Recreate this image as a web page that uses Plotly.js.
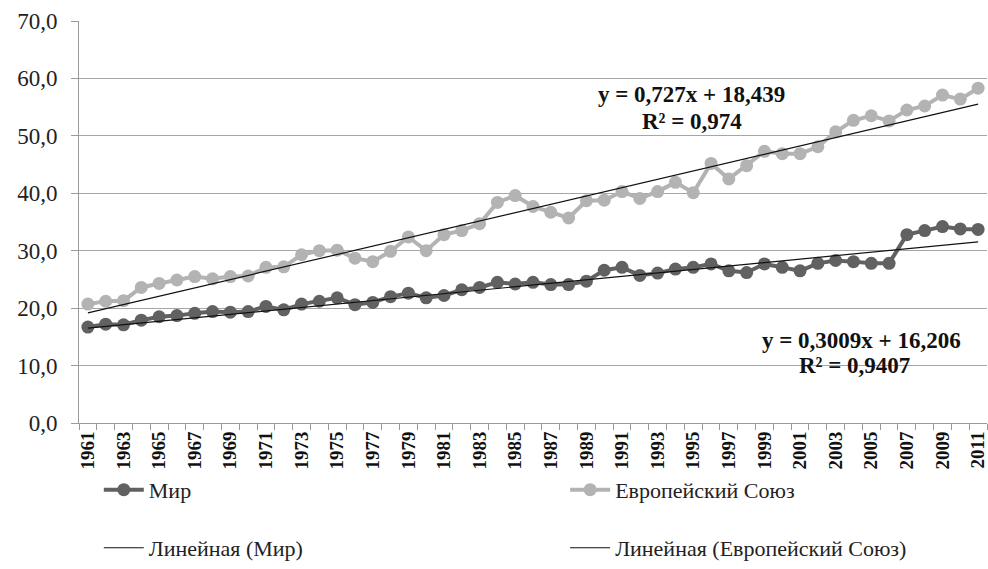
<!DOCTYPE html>
<html>
<head>
<meta charset="utf-8">
<script src="https://cdn.plot.ly/plotly-3.0.1.min.js"></script>
<style>html,body{margin:0;padding:0;background:#fff;}#chart{width:988px;height:569px;}</style>
</head>
<body>
<div id="chart"></div>
<script>
const years = [];
for (let y = 1961; y <= 2011; y++) years.push(y);
const tickYears = years.filter(y => (y - 1961) % 2 === 0);

const mir = [16.7,17.2,17.1,17.9,18.5,18.7,19.1,19.4,19.3,19.4,
             20.3,19.7,20.7,21.2,21.8,20.6,21.0,22.0,22.6,21.8,
             22.2,23.2,23.6,24.5,24.2,24.5,24.1,24.1,24.7,26.6,
             27.1,25.7,26.1,26.8,27.1,27.7,26.5,26.2,27.7,27.1,
             26.5,27.8,28.3,28.1,27.8,27.8,32.8,33.5,34.2,33.8,33.7];
const eu  = [20.7,21.2,21.3,23.6,24.3,24.9,25.5,25.1,25.5,25.6,
             27.1,27.2,29.3,30.0,30.1,28.7,28.1,29.9,32.4,30.0,
             32.8,33.5,34.7,38.4,39.6,37.7,36.7,35.7,38.7,38.8,
             40.3,39.1,40.3,41.9,40.1,45.2,42.5,44.8,47.3,46.9,
             46.9,48.1,50.7,52.7,53.5,52.6,54.5,55.2,57.1,56.4,58.3];

const names = ["Мир", "Европейский Союз", "Линейная (Мир)", "Линейная (Европейский Союз)"];
const trendMir = {slope: 0.3009, intercept: 16.206, eq: "y = 0,3009x + 16,206", r2: "R² = 0,9407"};
const trendEu  = {slope: 0.727, intercept: 18.439, eq: "y = 0,727x + 18,439", r2: "R² = 0,974"};

const lineFit = t => years.map((y, i) => t.slope * (i + 1) + t.intercept);

const serif = "Times New Roman, Liberation Serif, Tinos, DejaVu Serif, Noto Serif, serif";

const traces = [
  {x: years, y: mir, name: names[0], type: "scatter", mode: "lines+markers",
   line: {color: "#616161", width: 4}, marker: {color: "#616161", size: 13}, legend: "legend"},
  {x: years, y: eu, name: names[1], type: "scatter", mode: "lines+markers",
   line: {color: "#b3b3b3", width: 4}, marker: {color: "#b3b3b3", size: 13}, legend: "legend2"},
  {x: years, y: lineFit(trendMir), name: names[2], type: "scatter", mode: "lines",
   line: {color: "#111", width: 1.2}, legend: "legend3"},
  {x: years, y: lineFit(trendEu), name: names[3], type: "scatter", mode: "lines",
   line: {color: "#111", width: 1.2}, legend: "legend4"}
];

const legFont = {family: serif, size: 22, color: "#222"};
const mkLeg = (x, y) => ({xref: "container", yref: "container", x: x, y: y, xanchor: "left", yanchor: "middle",
  orientation: "h", font: legFont, bgcolor: "rgba(0,0,0,0)", itemwidth: 40});

const annFont = {family: serif, size: 23, color: "#111", weight: "bold"};
const ann = (x, y, text) => ({xref: "paper", yref: "paper", x: x, y: y, xanchor: "center", yanchor: "middle",
  text: text, showarrow: false, font: annFont});
const layout = {
  width: 988, height: 569,
  margin: {l: 79, r: 1, t: 21, b: 146, autoexpand: false},
  paper_bgcolor: "#fff", plot_bgcolor: "#fff",
  separators: ",.",
  font: {family: serif},
  showlegend: true,
  xaxis: {
    range: [1960.5, 2011.5], tickmode: "array", tickvals: tickYears, ticktext: tickYears.map(String),
    tickangle: -90, ticks: "", showgrid: false, zeroline: false, ticklabeloverflow: "allow",
    showline: true, linecolor: "#9a9a9a", linewidth: 1, automargin: false,
    tickfont: {family: serif, size: 19, color: "#111", weight: "bold"},
    minor: {ticks: "outside", ticklen: 6, tickcolor: "#9a9a9a", tick0: 1960.5, dtick: 1, showgrid: false}
  },
  yaxis: {
    range: [0, 70], dtick: 10, tickformat: ".1f", ticks: "outside", ticklen: 7, tickcolor: "#9a9a9a",
    showgrid: true, gridcolor: "#a6a6a6", gridwidth: 1, zeroline: false, automargin: false,
    showline: true, linecolor: "#9a9a9a", linewidth: 1, ticklabelstandoff: 9,
    tickfont: {family: serif, size: 23, color: "#222"}
  },
  legend: mkLeg(0.100, 0.139),
  legend2: mkLeg(0.572, 0.139),
  legend3: mkLeg(0.100, 0.037),
  legend4: mkLeg(0.572, 0.037),
  annotations: [
    ann(0.675, 0.816, trendEu.eq),
    ann(0.675, 0.751, trendEu.r2),
    ann(0.862, 0.206, trendMir.eq),
    ann(0.854, 0.142, trendMir.r2)
  ]
};

Plotly.newPlot("chart", traces, layout, {displayModeBar: false, staticPlot: true});
</script>
</body>
</html>
